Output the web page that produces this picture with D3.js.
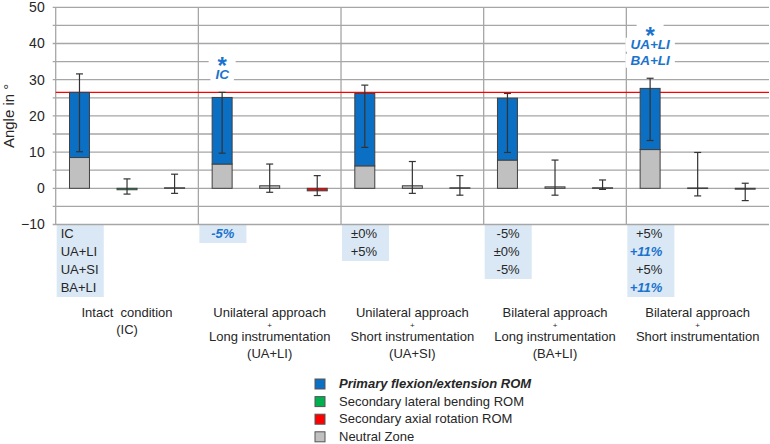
<!DOCTYPE html>
<html><head><meta charset="utf-8">
<script src="https://cdn.jsdelivr.net/npm/d3@7"></script>
<style>
html,body{margin:0;padding:0;background:#fff;}
svg{display:block;font-family:Arial,"Liberation Sans",sans-serif;}
</style></head>
<body><svg id="c" width="770" height="444"></svg>
<script>
// ---- data ----
const categories = ["IC", "UA+LI", "UA+SI", "BA+LI", "BA+SI"];
const categoryLabels = [
  ["Intact  condition", "(IC)"],
  ["Unilateral approach", "+", "Long instrumentation", "(UA+LI)"],
  ["Unilateral approach", "+", "Short instrumentation", "(UA+SI)"],
  ["Bilateral approach", "+", "Long instrumentation", "(BA+LI)"],
  ["Bilateral approach", "+", "Short instrumentation"]
];
const seriesKeys = ["flex", "lat", "rot"];
const seriesNames = ["Primary flexion/extension ROM", "Secondary lateral bending ROM", "Secondary axial rotation ROM", "Neutral Zone"];
// flexion/extension
const flexTotal = [26.5, 25.1, 26.2, 24.9, 27.6];
const flexNZ = [8.5, 6.7, 6.2, 7.8, 10.7];
const flexErrLow = [10.1, 9.7, 11.3, 9.9, 13.2];
const flexErrHigh = [31.6, 26.5, 28.5, 26.2, 30.4];
// lateral bending
const latTotal = [-0.4, 0.7, 0.7, 0.4, 0.1];
const latNZ = [0, 0.7, 0.7, 0.4, 0.1];
const latErrLow = [-1.6, -1.1, -1.4, -1.9, -2.1];
const latErrHigh = [2.6, 6.7, 7.4, 7.8, 9.9];
// axial rotation
const rotTotal = [0.15, -0.7, 0.15, 0.15, -0.25];
const rotNZ = [0.15, 0, 0.15, 0.15, -0.25];
const rotErrLow = [-1.4, -2.0, -1.9, -0.3, -3.4];
const rotErrHigh = [3.9, 3.5, 3.5, 2.3, 1.4];
// reference line (intact condition flexion/extension)
const refValue = 26.5;
// y ticks
const yTickLabels = [-10, 0, 10, 20, 30, 40, 50];
const yGridValues = [-10, -5, 0, 5, 10, 15, 20, 25, 30, 35, 40, 45, 50];
// comparison table
const tableRowLabels = ["IC", "UA+LI", "UA+SI", "BA+LI"];
const pctChanges = [[], ["-5%"], ["\u00b10%", "+5%"], ["-5%", "\u00b10%", "-5%"], ["+5%", "+11%", "+5%", "+11%"]];
const pctSignificant = [[], [true], [false, false], [false, false, false], [false, true, false, true]];
// significance annotations
const sigGroups = ["UA+LI", "BA+SI"];
const sigTexts = [["IC"], ["UA+LI", "BA+LI"]];

(function () {
// ---- styles ----
const C = {blue: "#0B6FC3", green: "#00B050", red: "#FF0000", gray: "#C0C0C0",
  stroke: "#404040", grid: "#A6A6A6", text: "#262626", annot: "#1A73CC", table: "#DAE8F5"};
const colorOf = {flex: C.blue, lat: C.green, rot: C.red};

const svg = d3.select("#c");
const pL = 55.7, pR = 769, pT = 7.3, pB = 224.5;
const y = d3.scaleLinear().domain([-10, 50]).range([pB, pT]);
const x = d3.scaleBand().domain(categories).range([pL, pR]).padding(0);
const xs = d3.scaleBand().domain(seriesKeys).range([0, x.bandwidth()]).paddingInner(0.58).paddingOuter(0.29);

// table boxes
const tbl = svg.append("g");
categories.forEach((cat, i) => {
  const n = i === 0 ? tableRowLabels.length : pctChanges[i].length;
  if (!n) return;
  const gx = x(cat);
  tbl.append("rect").attr("x", gx + 1).attr("y", y(-10) + 0.5)
    .attr("width", xs.step() - 0.5).attr("height", n * 18)
    .attr("fill", C.table);
  if (i === 0) {
    tableRowLabels.forEach((t, r) => {
      tbl.append("text").attr("x", gx + 5).attr("y", y(-10) + 9.8 + r * 18)
        .attr("dominant-baseline", "middle").attr("font-size", 13).attr("fill", C.text).text(t);
    });
  } else {
    pctChanges[i].forEach((t, r) => {
      const sig = pctSignificant[i][r];
      tbl.append("text").attr("x", gx + 36).attr("y", y(-10) + 9.8 + r * 18)
        .attr("text-anchor", "end").attr("dominant-baseline", "middle").attr("font-size", 13)
        .attr("fill", sig ? C.annot : C.text)
        .attr("font-weight", sig ? "bold" : null).attr("font-style", sig ? "italic" : null)
        .text(t);
    });
  }
});

// gridlines
svg.append("g").selectAll("line").data(yGridValues).join("line")
  .attr("x1", pL - 3).attr("x2", pR).attr("y1", d => y(d)).attr("y2", d => y(d))
  .attr("stroke", C.grid).attr("stroke-width", 1.3);
// group separators + axis
svg.append("g").selectAll("line").data(categories).join("line")
  .attr("x1", d => x(d)).attr("x2", d => x(d)).attr("y1", y(50)).attr("y2", y(-10))
  .attr("stroke", C.grid).attr("stroke-width", 1.3);

// y axis labels
const yAxis = d3.axisLeft(y).tickValues(yTickLabels).tickSize(0).tickPadding(11);
const ya = svg.append("g").attr("transform", `translate(${pL},0)`).call(yAxis);
ya.select(".domain").remove();
ya.selectAll("text").attr("font-size", 14).attr("fill", C.text).attr("font-family", "Arial, 'Liberation Sans', sans-serif");

svg.append("text").attr("transform", `translate(13.8,${(pT + pB) / 2}) rotate(-90)`)
  .attr("text-anchor", "middle").attr("font-size", 15).attr("fill", C.text).text("Angle in \u00b0");

// reference line
svg.append("line").attr("x1", pL).attr("x2", pR).attr("y1", y(refValue)).attr("y2", y(refValue))
  .attr("stroke", C.red).attr("stroke-width", 1.3);

// bars
const seriesData = {
  flex: {total: flexTotal, nz: flexNZ, lo: flexErrLow, hi: flexErrHigh},
  lat: {total: latTotal, nz: latNZ, lo: latErrLow, hi: latErrHigh},
  rot: {total: rotTotal, nz: rotNZ, lo: rotErrLow, hi: rotErrHigh}
};
const bars = [];
categories.forEach((cat, i) => seriesKeys.forEach(k => {
  const s = seriesData[k];
  bars.push({cat, k, total: s.total[i], nz: s.nz[i], lo: s.lo[i], hi: s.hi[i]});
}));
const bg = svg.append("g");
function rect(sel, v0, v1, fill) {
  const a = Math.min(y(v0), y(v1)), b = Math.max(y(v0), y(v1));
  sel.append("rect").attr("x", 0).attr("width", xs.bandwidth())
    .attr("y", a).attr("height", Math.max(b - a, 0.6))
    .attr("fill", fill).attr("stroke", C.stroke).attr("stroke-width", 1);
}
bars.forEach(d => {
  const g = bg.append("g").attr("transform", `translate(${x(d.cat) + xs(d.k)},0)`);
  if (d.nz !== 0) rect(g, 0, d.nz, C.gray);
  if (d.total !== d.nz) rect(g, d.nz, d.total, colorOf[d.k]);
  const cx = xs.bandwidth() / 2;
  g.append("line").attr("x1", cx).attr("x2", cx).attr("y1", y(d.lo)).attr("y2", y(d.hi))
    .attr("stroke", "#333").attr("stroke-width", 1.2);
  [d.lo, d.hi].forEach(v => g.append("line").attr("x1", cx - 3.5).attr("x2", cx + 3.5)
    .attr("y1", y(v)).attr("y2", y(v)).attr("stroke", "#333").attr("stroke-width", 1.2));
});

// significance annotations
sigGroups.forEach((cat, gi) => {
  const i = categories.indexOf(cat);
  const cx = x(cat) + xs("flex") + xs.bandwidth() / 2;
  const lines = sigTexts[gi];
  const g = svg.append("g");
  const lastCenter = y(flexErrHigh[i]) - 17.5;
  const firstCenter = lastCenter - (lines.length - 1) * 16;
  lines.forEach((t, r) => {
    const cy = firstCenter + r * 16;
    const box = g.append("rect").attr("fill", "#fff");
    const tx = g.append("text").attr("x", cx).attr("y", cy).attr("text-anchor", "middle").attr("dominant-baseline", "central")
      .attr("font-size", 13.5).attr("font-weight", "bold").attr("font-style", "italic").attr("fill", C.annot).text(t);
    const w = tx.node().getComputedTextLength();
    box.attr("x", cx - w / 2 - 5).attr("y", cy - 7).attr("width", w + 10).attr("height", 14);
  });
  const starCenter = firstCenter - 16.5;
  g.append("rect").attr("x", cx - 13.5).attr("y", starCenter - 7).attr("width", 27).attr("height", 14).attr("fill", "#fff");
  g.append("text").attr("x", cx).attr("y", starCenter + 15.3).attr("text-anchor", "middle")
    .attr("font-size", 24).attr("font-weight", "bold").attr("fill", C.annot).text("*");
});

// category labels
const lineOffsets4 = [0, 12.2, 24, 41];
const lineOffsets2 = [0, 17];
categories.forEach((cat, i) => {
  const lines = categoryLabels[i];
  const offs = lines.length === 2 ? lineOffsets2 : lineOffsets4;
  lines.forEach((t, r) => {
    svg.append("text").attr("x", x(cat) + x.bandwidth() / 2).attr("y", 314 + offs[r])
      .attr("text-anchor", "middle").attr("dominant-baseline", "middle")
      .attr("font-size", t === "+" ? 8 : 13).attr("fill", C.text).style("white-space", "pre").text(t);
  });
});

// legend
const legColors = [C.blue, C.green, C.red, C.gray];
const lg = svg.append("g").attr("transform", "translate(315,379)");
seriesNames.forEach((name, r) => {
  const yy = r * 17.6;
  lg.append("rect").attr("x", 0).attr("y", yy).attr("width", 10).attr("height", 10)
    .attr("fill", legColors[r]).attr("stroke", "#555").attr("stroke-width", 1);
  lg.append("text").attr("x", 24).attr("y", yy + 5.5).attr("dominant-baseline", "middle")
    .attr("font-size", 13).attr("fill", C.text)
    .attr("font-weight", r === 0 ? "bold" : null).attr("font-style", r === 0 ? "italic" : null)
    .text(name);
});
})();
</script></body></html>
